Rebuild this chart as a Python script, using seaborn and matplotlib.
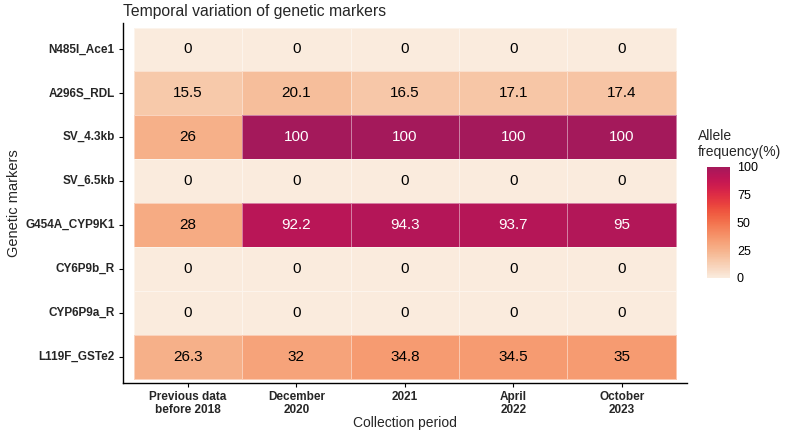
import numpy as np
import pandas as pd
import matplotlib
matplotlib.use("Agg")
import matplotlib.pyplot as plt
from matplotlib.colors import ListedColormap
import seaborn as sns

# Data
markers = ["N485I_Ace1", "A296S_RDL", "SV_4.3kb", "SV_6.5kb",
           "G454A_CYP9K1", "CY6P9b_R", "CYP6P9a_R", "L119F_GSTe2"]
periods = ["Previous data\nbefore 2018", "December\n2020", "2021",
           "April\n2022", "October\n2023"]
n485i_ace1 = [0, 0, 0, 0, 0]
a296s_rdl = [15.5, 20.1, 16.5, 17.1, 17.4]
sv_43kb = [26, 100, 100, 100, 100]
sv_65kb = [0, 0, 0, 0, 0]
g454a_cyp9k1 = [28, 92.2, 94.3, 93.7, 95]
cy6p9b_r = [0, 0, 0, 0, 0]
cyp6p9a_r = [0, 0, 0, 0, 0]
l119f_gste2 = [26.3, 32, 34.8, 34.5, 35]

df = pd.DataFrame(
    [n485i_ace1, a296s_rdl, sv_43kb, sv_65kb,
     g454a_cyp9k1, cy6p9b_r, cyp6p9a_r, l119f_gste2],
    index=markers, columns=periods,
)

sns.set_theme(style="white")
plt.rcParams["font.family"] = ["Liberation Sans", "DejaVu Sans"]

# truncated reversed rocket palette
rocket = sns.color_palette("rocket", as_cmap=True)
cmap = ListedColormap(rocket(np.linspace(1.0, 0.41, 256)))

fig = plt.figure(figsize=(7.93, 4.32), dpi=100)
ax = fig.add_axes([0.155, 0.1134, 0.711, 0.833])
cax = fig.add_axes([0.8916, 0.3565, 0.029, 0.257])

annot = df.map(lambda v: f"{v:g}")
sns.heatmap(df, ax=ax, cmap=cmap, vmin=0, vmax=100, annot=annot, fmt="",
            annot_kws={"fontsize": 11}, linewidths=0.6,
            linecolor=(1, 1, 1, 0.45), cbar_ax=cax,
            cbar_kws={"ticks": [0, 25, 50, 75, 100]})

# dark cells get white text
for txt in ax.texts:
    val = float(txt.get_text())
    txt.set_color("white" if val > 50 else "black")

ax.set_xlim(-0.1, 5.1)
ax.set_ylim(8.1, -0.1)
for side in ["left", "bottom"]:
    ax.spines[side].set_visible(True)
    ax.spines[side].set_color("black")
    ax.spines[side].set_linewidth(1.0)
for side in ["top", "right"]:
    ax.spines[side].set_visible(False)

ax.tick_params(axis="both", which="both", length=3, width=0.8,
               color="black", pad=3, left=True, bottom=True)
ax.set_yticklabels(markers, rotation=0, fontsize=8.5, fontweight="bold")
ax.set_xticklabels(periods, rotation=0, fontsize=8.5, fontweight="bold",
                   linespacing=1.1)

ax.set_xlabel("Collection period", fontsize=10, labelpad=0)
ax.set_ylabel("Genetic markers", fontsize=10.5, labelpad=3)
ax.set_title("Temporal variation of genetic markers", loc="left",
             fontsize=11.3, pad=5)

cbar = ax.collections[0].colorbar
cbar.outline.set_visible(False)
cax.minorticks_off()
cax.tick_params(axis="y", which="major", direction="in", length=3,
                width=0.6, color="white", labelcolor="black",
                labelsize=9, right=True, left=True, pad=5)
cax.set_title("Allele\nfrequency(%)", fontsize=10, loc="left",
              pad=8, x=-0.4, linespacing=1.15)

fig.savefig("out.png", dpi=100)
